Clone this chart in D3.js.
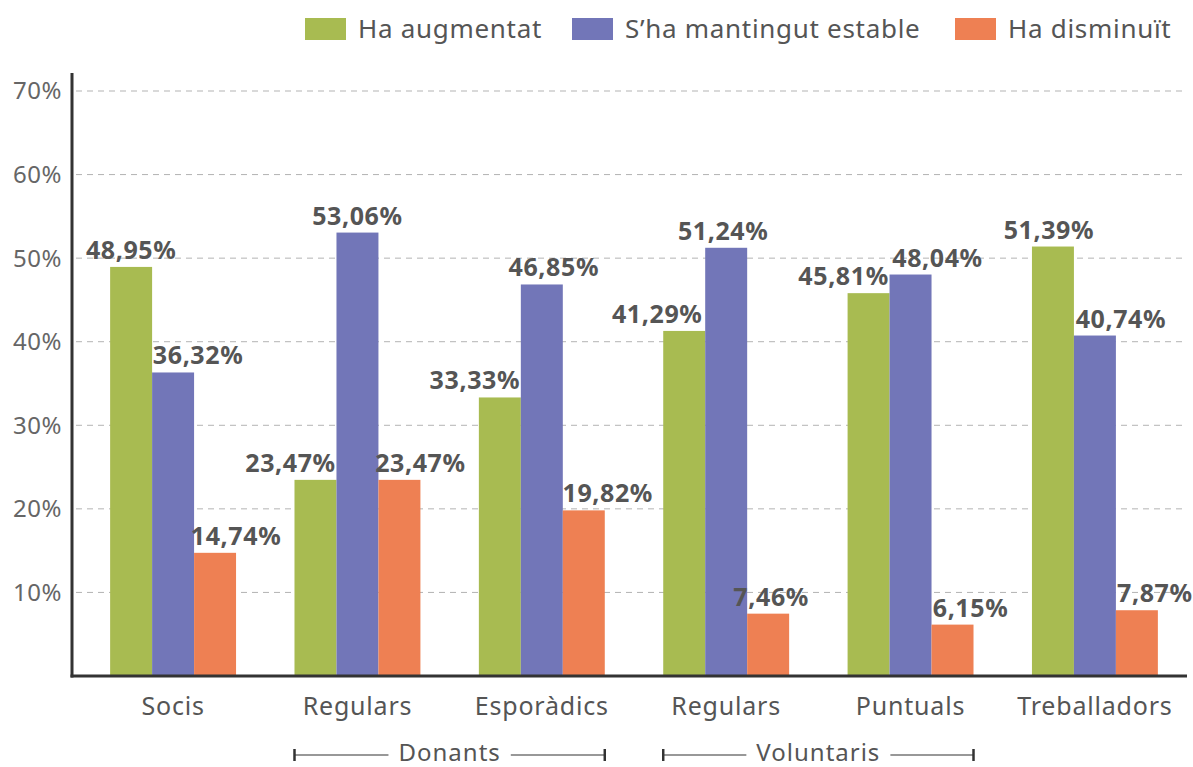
<!DOCTYPE html>
<html><head><meta charset="utf-8">
<script src="https://cdn.jsdelivr.net/npm/d3@7"></script>
<style>body{margin:0;background:#fff}svg{display:block}text{font-family:"Noto Sans",sans-serif}</style>
</head><body>
<svg id="c" width="1193" height="767"></svg>
<script>
const categories = ["Socis","Regulars","Esporàdics","Regulars","Puntuals","Treballadors"];
const seriesNames = ["Ha augmentat","S’ha mantingut estable","Ha disminuït"];
const augmentat = [48.95,23.47,33.33,41.29,45.81,51.39];
const estable = [36.32,53.06,46.85,51.24,48.04,40.74];
const disminuit = [14.74,23.47,19.82,7.46,6.15,7.87];
const yTicks = [10,20,30,40,50,60,70];
const groups = [{name:"Donants", from:1, to:2},{name:"Voluntaris", from:3, to:4}];

// layout config (kept separate from data): horizontal nudges of value labels per category [green, blue, orange]
const labelNudge = [[0,25,21],[-25,0,21],[-25,12,24],[-27,-3,3],[-25,27,18],[-4,26,18]];
const colors = ["#a8bb51","#7276b8","#ee8053"];

const series = [augmentat, estable, disminuit];
const svg = d3.select("#c");
const axisX = 72, baseY = 676;
const x0 = d3.scaleBand().domain(d3.range(categories.length)).range([81,1187]).paddingInner(0.317).paddingOuter(0.158);
const x1 = d3.scaleBand().domain(d3.range(3)).range([0, x0.bandwidth()]);
const y = d3.scaleLinear().domain([0,70]).range([baseY, 91]);
const fmt = v => v.toFixed(2).replace(".", ",") + "%";

// grid
svg.append("g").selectAll("line").data(yTicks).join("line")
  .attr("x1", axisX+4).attr("x2", 1185)
  .attr("y1", d=>y(d)).attr("y2", d=>y(d))
  .attr("stroke","#b3b3b3").attr("stroke-width",1).attr("stroke-dasharray","6,5");
svg.append("g").selectAll("text").data(yTicks).join("text")
  .attr("x", 62).attr("y", d=>y(d)).attr("dy","0.35em").attr("text-anchor","end")
  .attr("font-size",24).attr("letter-spacing",0.5).attr("fill","#666").text(d=>d+"%");

// bars
const g = svg.append("g").selectAll("g").data(categories).join("g")
  .attr("transform",(d,i)=>`translate(${x0(i)},0)`);
g.each(function(c,i){
  const gg = d3.select(this);
  series.forEach((s,k)=>{
    gg.append("rect").attr("x", x1(k)).attr("width", x1.bandwidth())
      .attr("y", y(s[i])).attr("height", baseY - y(s[i])).attr("fill", colors[k]);
  });
  series.forEach((s,k)=>{
    gg.append("text").attr("x", x1(k)+x1.bandwidth()/2 + labelNudge[i][k]).attr("y", y(s[i])-8)
      .attr("text-anchor","middle").attr("font-size",25).attr("font-weight","bold")
      .attr("letter-spacing",0.6).attr("fill","#555").text(fmt(s[i]));
  });
});

// axes
svg.append("line").attr("x1",axisX).attr("x2",axisX).attr("y1",73).attr("y2",baseY+1.5)
  .attr("stroke","#333").attr("stroke-width",3);
svg.append("line").attr("x1",axisX-1.5).attr("x2",1187).attr("y1",baseY).attr("y2",baseY)
  .attr("stroke","#333").attr("stroke-width",3);

// x labels
svg.append("g").selectAll("text").data(categories).join("text")
  .attr("x",(d,i)=>x0(i)+x0.bandwidth()/2).attr("y",706).attr("dy","0.35em")
  .attr("text-anchor","middle").attr("font-size",25).attr("letter-spacing",0.8).attr("fill","#555").text(d=>d);

// group brackets
groups.forEach(gr=>{
  const xa = x0(gr.from), xb = x0(gr.to)+x0.bandwidth(), yy = 753, cx = (xa+xb)/2;
  const t = svg.append("text").attr("x",cx).attr("y",yy).attr("dy","0.35em").attr("text-anchor","middle")
    .attr("font-size",24).attr("letter-spacing",1).attr("fill","#555").text(gr.name);
  const bw = t.node().getBBox().width;
  const gap = 10;
  svg.append("line").attr("x1",xa).attr("x2",cx-bw/2-gap).attr("y1",yy+2).attr("y2",yy+2).attr("stroke","#333").attr("stroke-width",1.2);
  svg.append("line").attr("x1",cx+bw/2+gap).attr("x2",xb).attr("y1",yy+2).attr("y2",yy+2).attr("stroke","#333").attr("stroke-width",1.2);
  [xa,xb].forEach(xx=>svg.append("line").attr("x1",xx).attr("x2",xx).attr("y1",yy-4).attr("y2",yy+8).attr("stroke","#333").attr("stroke-width",2.5));
});

// legend
const legX = [305,572,955];
seriesNames.forEach((n,k)=>{
  svg.append("rect").attr("x",legX[k]).attr("y",18).attr("width",41).attr("height",22).attr("fill",colors[k]);
  svg.append("text").attr("x",legX[k]+53).attr("y",29).attr("dy","0.35em").attr("font-size",26)
    .attr("letter-spacing",0.7).attr("fill","#555").text(n);
});
</script>
</body></html>
